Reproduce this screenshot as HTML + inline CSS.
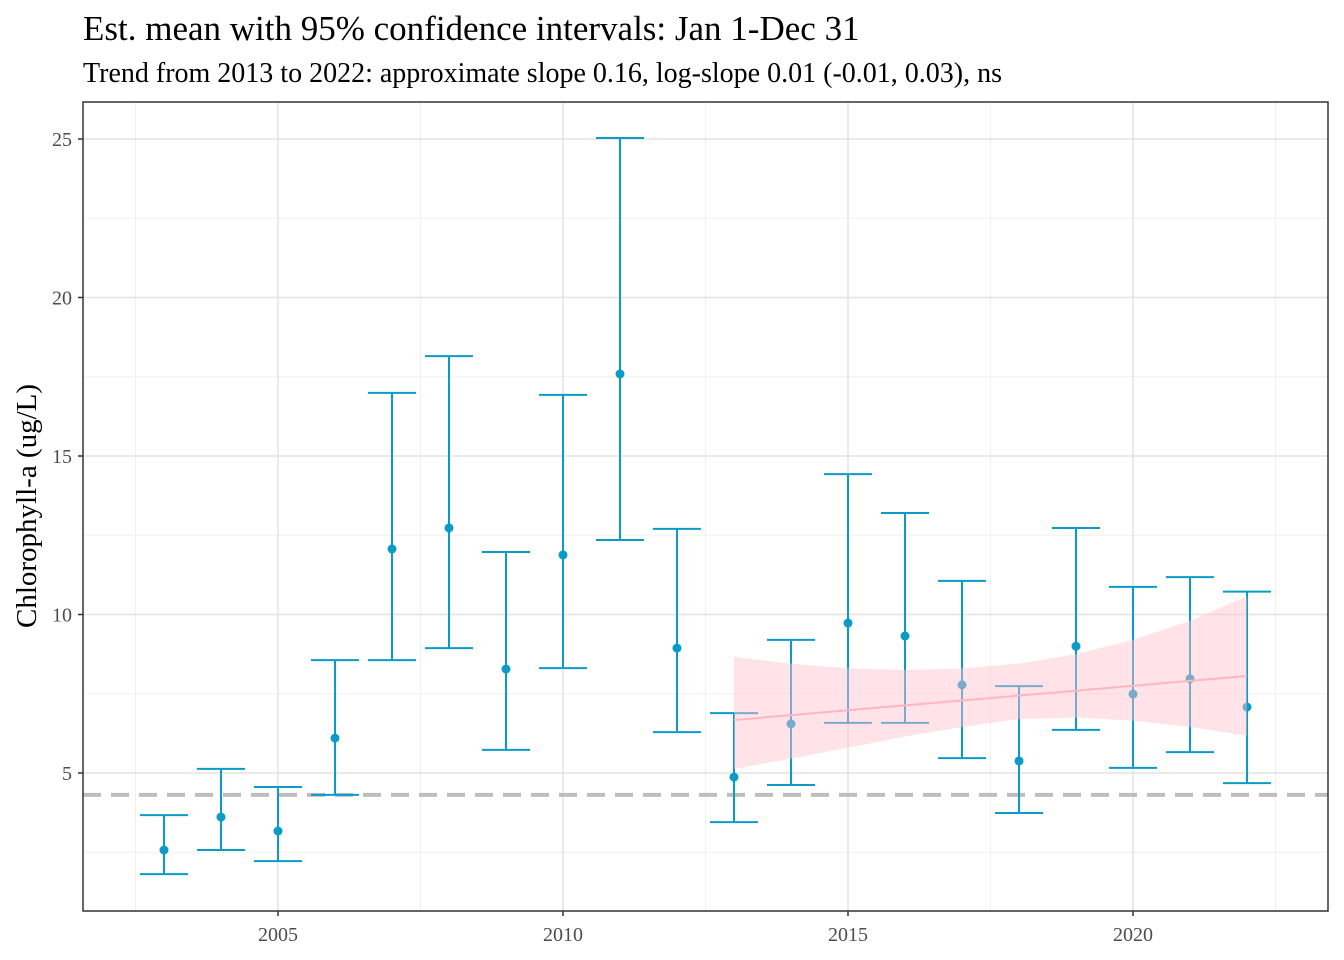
<!DOCTYPE html>
<html><head><meta charset="utf-8"><style>
body{margin:0;background:#fff;}
svg{display:block;font-family:"Liberation Serif",serif;}
</style></head><body>
<svg id="chart" width="1344" height="960" xmlns="http://www.w3.org/2000/svg">
<text x="83" y="40" font-size="35" fill="#000">Est. mean with 95% confidence intervals: Jan 1-Dec 31</text>
<text x="83" y="82" font-size="28" fill="#000">Trend from 2013 to 2022: approximate slope 0.16, log-slope 0.01 (-0.01, 0.03), ns</text>
<g id="grid"></g>
<g id="marks"></g>
<rect x="83" y="102" width="1245" height="809" fill="none" stroke="#333" stroke-width="1.5"/>
<g id="axes"></g>
<text transform="translate(36,506) rotate(-90)" text-anchor="middle" font-size="29" fill="#000">Chlorophyll-a (ug/L)</text>
</svg>
<script>
const years=[2003,2004,2005,2006,2007,2008,2009,2010,2011,2012,2013,2014,2015,2016,2017,2018,2019,2020,2021,2022];
const means=[2.57,3.61,3.17,6.1,12.07,12.73,8.28,11.88,17.59,8.94,4.87,6.55,9.73,9.32,7.78,5.38,9.0,7.49,7.97,7.08];
const lows=[1.81,2.57,2.22,4.31,8.56,8.94,5.73,8.31,12.35,6.29,3.45,4.62,6.58,6.58,5.47,3.74,6.36,5.16,5.66,4.68];
const highs=[3.67,5.13,4.56,8.56,16.99,18.15,11.97,16.93,25.03,12.7,6.89,9.2,14.43,13.2,11.06,7.74,12.73,10.87,11.18,10.72];
const trendYears=[2013,2022];
const trendVals=[6.67,8.06];
const ribbonYears=[2013,2014,2015,2016,2017,2018,2019,2020,2021,2022];
const ribbonLow=[5.13,5.45,5.8,6.15,6.45,6.7,6.75,6.65,6.45,6.17];
const ribbonHigh=[8.66,8.45,8.3,8.25,8.3,8.45,8.75,9.2,9.8,10.58];
const refLine=4.31;
const xTicks=[2005,2010,2015,2020];
const yTicks=[5,10,15,20,25];

const NS="http://www.w3.org/2000/svg";
const X=yr=>278+(yr-2005)*57;
const Y=v=>773-(v-5)*31.7;
function mk(parent,tag,attrs){const e=document.createElementNS(NS,tag);for(const k in attrs)e.setAttribute(k,attrs[k]);document.getElementById(parent).appendChild(e);return e;}
for(let v=2.5;v<=25;v+=5){const e=mk('grid','line',{x1:83,x2:1328,y1:Y(v),y2:Y(v),stroke:'#f0f0f0','stroke-width':1});

}
for(let yr=2002.5;yr<=2022.5;yr+=5){const e=mk('grid','line',{x1:X(yr),x2:X(yr),y1:102,y2:911,stroke:'#f0f0f0','stroke-width':1});

}
yTicks.forEach(v=>{const e=mk('grid','line',{x1:83,x2:1328,y1:Y(v),y2:Y(v),stroke:'#e3e3e3','stroke-width':1.5});


const t=mk('axes','text',{x:72,y:Y(v)+7,'text-anchor':'end','font-size':20,fill:'#4d4d4d'});t.textContent=v;


const tk=mk('axes','line',{x1:78,x2:83,y1:Y(v),y2:Y(v),stroke:'#333','stroke-width':1.5});

});
xTicks.forEach(yr=>{const e=mk('grid','line',{x1:X(yr),x2:X(yr),y1:102,y2:911,stroke:'#e3e3e3','stroke-width':1.5});


const t=mk('axes','text',{x:X(yr),y:941,'text-anchor':'middle','font-size':20,fill:'#4d4d4d'});t.textContent=yr;


const tk=mk('axes','line',{x1:X(yr),x2:X(yr),y1:911,y2:916,stroke:'#333','stroke-width':1.5});

});
const rl=mk('marks','line',{x1:83,x2:1328,y1:Y(refLine),y2:Y(refLine),stroke:'#bebebe','stroke-width':4,'stroke-dasharray':'18,10'});


years.forEach((yr,i)=>{const c='#0a9bc8';const x=X(yr);
const g=mk('marks','g',{});


g.innerHTML=`<line x1="${x}" x2="${x}" y1="${Y(lows[i])}" y2="${Y(highs[i])}" stroke="${c}" stroke-width="2"/>
<line x1="${x-24}" x2="${x+24}" y1="${Y(lows[i])}" y2="${Y(lows[i])}" stroke="${c}" stroke-width="2"/>
<line x1="${x-24}" x2="${x+24}" y1="${Y(highs[i])}" y2="${Y(highs[i])}" stroke="${c}" stroke-width="2"/>
<circle cx="${x}" cy="${Y(means[i])}" r="4.5" fill="${c}"/>`;});
let pts=ribbonYears.map((yr,i)=>X(yr)+','+Y(ribbonHigh[i]));
for(let i=ribbonYears.length-1;i>=0;i--)pts.push(X(ribbonYears[i])+','+Y(ribbonLow[i]));
const rb=mk('marks','polygon',{points:pts.join(' '),fill:'#ffc0cb','fill-opacity':0.45});


const tl=mk('marks','line',{x1:X(trendYears[0]),x2:X(trendYears[1]),y1:Y(trendVals[0]),y2:Y(trendVals[1]),stroke:'#ffb6c1','stroke-width':2});


</script>
</body></html>
